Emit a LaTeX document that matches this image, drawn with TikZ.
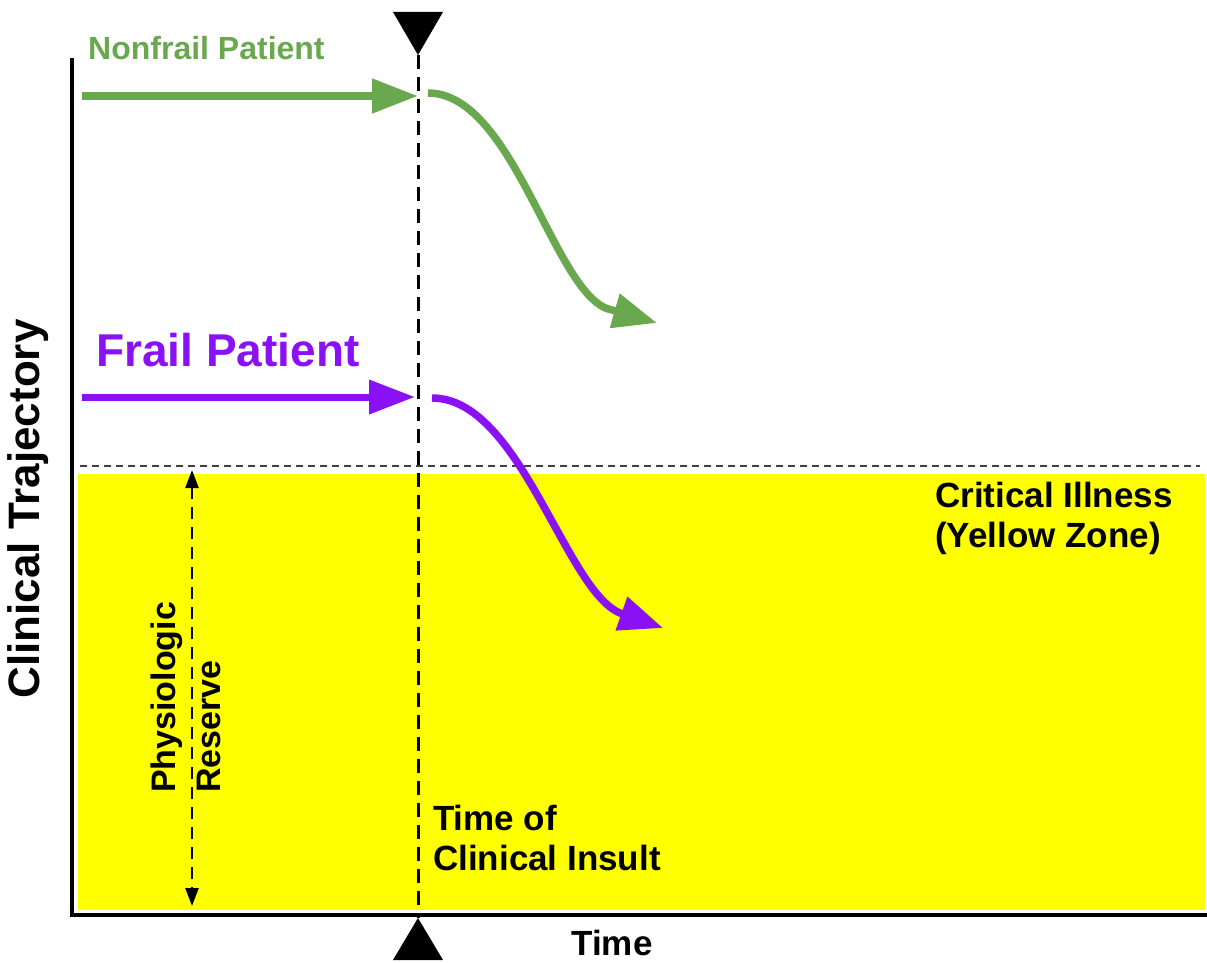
\documentclass[tikz,border=0pt]{standalone}
\usepackage{fontspec}
\setmainfont{Liberation Sans}
\usetikzlibrary{arrows.meta}
\definecolor{nfgreen}{RGB}{106,168,79}
\definecolor{fpurple}{RGB}{138,16,245}
\definecolor{zoneyellow}{RGB}{255,255,0}
\tikzset{
  lbl/.style={inner sep=0pt, font=\bfseries\fontsize{35}{40}\selectfont, align=left},
  bigtip/.style={-{Triangle[length=46pt,width=33pt]}},
  curvetip/.style={-{Triangle[length=44pt,width=34pt]}},
  marker/.style={fill=black, draw=none},
}
\begin{document}
\begin{tikzpicture}[x=1pt,y=-1pt]
\useasboundingbox (0,0) rectangle (1207,963);
% yellow zone
\fill[zoneyellow] (78,474) rectangle (1205,910);
% threshold dashed line
\draw[line width=1.6pt, dash pattern=on 7pt off 5pt, black!75] (80,466) -- (1200,466);
% axes
\coordinate (yaxtop) at (72,60);
\coordinate (origin) at (72,915);
\coordinate (xaxend) at (1205,915);
\draw[line width=4pt, line cap=rect] (yaxtop) -- (origin) -- (xaxend);
% insult markers
\coordinate (topmark) at (418,55);
\coordinate (botmark) at (418,918);
\fill[marker] (393,12) -- (443,12) -- (topmark) -- cycle;
\fill[marker] (botmark) -- (443,960) -- (393,960) -- cycle;
\draw[line width=3pt, dash pattern=on 14pt off 8pt] (topmark) -- (botmark);
% physiologic reserve arrow
\coordinate (prtop) at (192,470);
\coordinate (prbot) at (192,906);
\draw[line width=2.5pt, dash pattern=on 12pt off 8pt, {Triangle[length=18pt,width=13pt]}-{Triangle[length=18pt,width=13pt]}] (prtop) -- (prbot);
% nonfrail trajectory
\coordinate (nfs) at (82,96);
\coordinate (nfe) at (418,96);
\coordinate (nfc) at (428,93);
\coordinate (nfb) at (612,310);
\coordinate (nft) at (657,323);
\draw[nfgreen, line width=8pt, bigtip] (nfs) -- (nfe);
\draw[nfgreen, line width=7.5pt, curvetip] (nfc) .. controls (515,93) and (555,300) .. (nfb) -- (nft);
% frail trajectory
\coordinate (fs) at (82,397);
\coordinate (fe) at (415,397);
\coordinate (fc) at (432,398);
\coordinate (fb) at (620,613);
\coordinate (ft) at (663,628);
\draw[fpurple, line width=7pt, bigtip] (fs) -- (fe);
\draw[fpurple, line width=7.5pt, curvetip] (fc) .. controls (520,398) and (565,590) .. (fb) -- (ft);
% labels
\node[lbl, text=nfgreen, font=\bfseries\fontsize{32}{38}\selectfont, anchor=west] (nflbl) at (88,48) {Nonfrail Patient};
\node[lbl, text=fpurple, font=\bfseries\fontsize{46}{52}\selectfont, anchor=west] (flbl) at (96,350) {Frail Patient};
\node[lbl, font=\bfseries\fontsize{44}{50}\selectfont, rotate=90] (ylbl) at (28,509) {Clinical Trajectory};
\node[lbl, font=\bfseries\fontsize{34}{45}\selectfont, rotate=90, anchor=west] (prlbl) at (186,793) {Physiologic\\Reserve};
\node[lbl, anchor=west] (cilbl) at (935,518) {Critical Illness\\(Yellow Zone)};
\node[lbl, anchor=west] (tilbl) at (433,838) {Time of\\Clinical Insult};
\node[lbl] (xlbl) at (612,943) {Time};
\end{tikzpicture}
\end{document}
